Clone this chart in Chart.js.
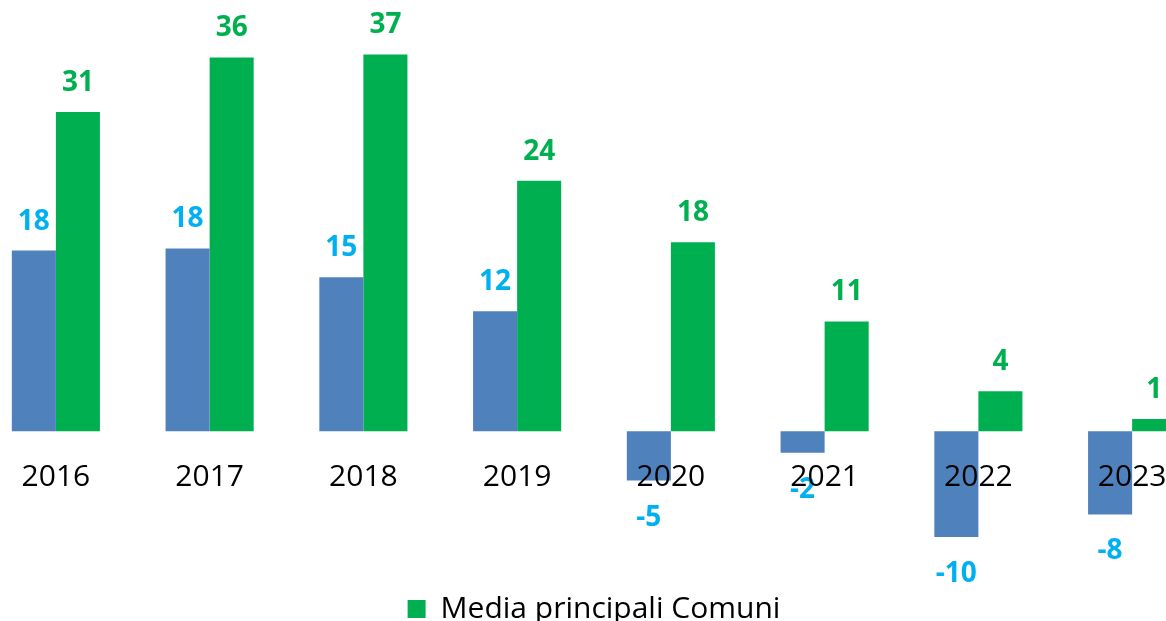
<!DOCTYPE html>
<html>
<head>
<meta charset="utf-8">
<script src="https://cdn.jsdelivr.net/npm/chart.js@4"></script>
<style>
  html, body { margin: 0; padding: 0; background: #fff; overflow: hidden; width: 1166px; height: 621px; }
  #wrap { position: absolute; left: -21px; top: 0; width: 1230px; height: 634px; }
</style>
</head>
<body>
<div id="wrap"><canvas id="chart"></canvas></div>
<script>
const years = ["2016", "2017", "2018", "2019", "2020", "2021", "2022", "2023"];
const blueValues = [17.6, 17.8, 15.0, 11.7, -4.8, -2.1, -10.3, -8.1];
const greenValues = [31.1, 36.4, 36.7, 24.4, 18.4, 10.7, 3.9, 1.2];
const blueName = "Media";
const greenName = "Media principali Comuni";

const labelColors = ["#00B0F0", "#00B050"];

const valueLabels = {
  id: "valueLabels",
  afterDatasetsDraw(chart) {
    const ctx = chart.ctx;
    ctx.save();
    ctx.font = "bold 28px 'Open Sans'";
    ctx.textAlign = "center";
    ctx.textBaseline = "middle";
    chart.data.datasets.forEach((ds, i) => {
      const meta = chart.getDatasetMeta(i);
      ctx.fillStyle = labelColors[i];
      meta.data.forEach((bar, j) => {
        const v = ds.data[j];
        const y = v >= 0 ? bar.y - 29 : bar.y + 37;
        ctx.fillText(String(Math.round(v)), bar.x, y);
      });
    });
    ctx.restore();
  }
};

const ctx = document.getElementById("chart").getContext("2d");
new Chart(ctx, {
  type: "bar",
  data: {
    labels: years,
    datasets: [
      { label: blueName, data: blueValues, backgroundColor: "#4F81BD" },
      { label: greenName, data: greenValues, backgroundColor: "#00B050" }
    ]
  },
  options: {
    responsive: true,
    maintainAspectRatio: false,
    animation: false,
    layout: { padding: 0 },
    datasets: { bar: { categoryPercentage: 0.573, barPercentage: 1 } },
    scales: {
      x: {
        position: { y: 0 },
        grid: { display: false, drawTicks: false },
        border: { display: false },
        ticks: { z: 1, color: "#000", font: { family: "'Open Sans'", size: 30 }, padding: 28 }
      },
      y: { display: false, min: -15.36, max: 42 }
    },
    plugins: {
      legend: {
        position: "bottom",
        labels: {
          filter: item => item.datasetIndex === 1,
          color: "#000",
          boxWidth: 18,
          boxHeight: 18,
          font: { family: "'Open Sans'", size: 30 },
          padding: 5
        }
      },
      tooltip: { enabled: false }
    }
  },
  plugins: [valueLabels]
});
</script>
</body>
</html>
